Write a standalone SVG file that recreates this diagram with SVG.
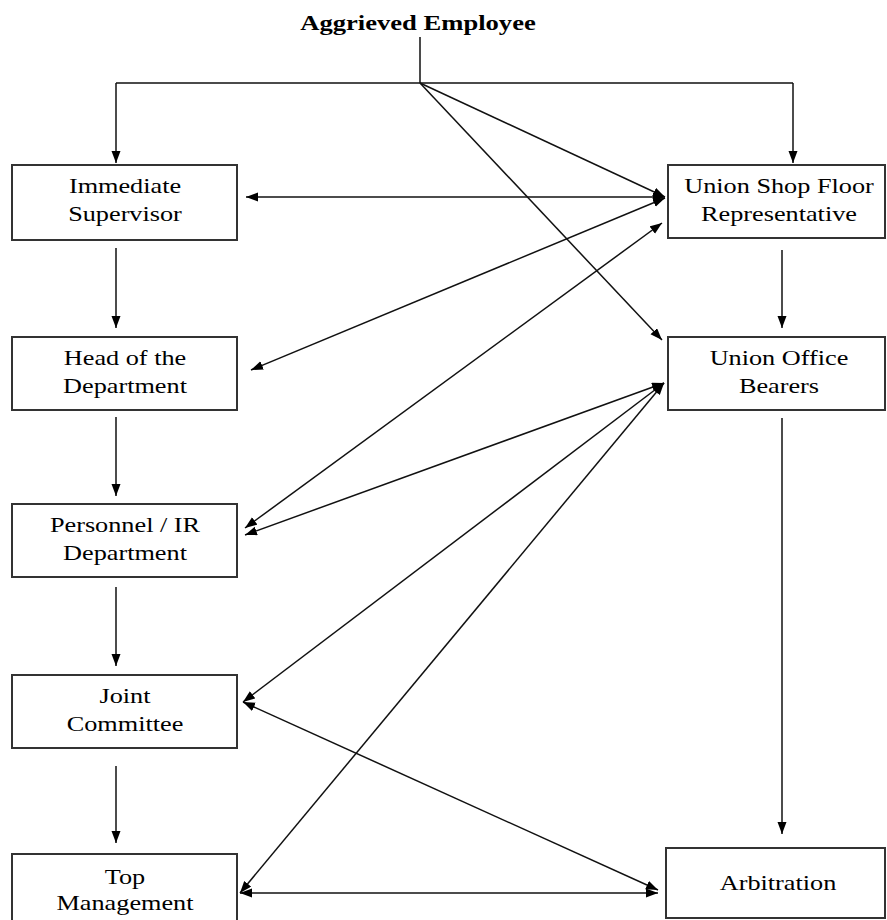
<svg xmlns="http://www.w3.org/2000/svg" width="887" height="920" viewBox="0 0 887 920">
  <defs>
    <marker id="arrow" markerUnits="userSpaceOnUse" markerWidth="13" markerHeight="10" refX="12" refY="4.5" orient="auto-start-reverse">
      <path d="M0,0 L12,4.5 L0,9 Z" fill="#000"/>
    </marker>
    <style>
      .box { fill: #fff; stroke: #333; stroke-width: 2; }
      .lbl { font-family: "Liberation Serif", "Times New Roman", serif; font-size: 21px; fill: #000; text-anchor: middle; }
      .title { font-family: "Liberation Serif", "Times New Roman", serif; font-size: 20px; font-weight: bold; fill: #000; text-anchor: middle; }
      .ln { fill: none; stroke: #111; stroke-width: 1.5; }
      .one { marker-end: url(#arrow); }
      .two { marker-start: url(#arrow); marker-end: url(#arrow); }
    </style>
  </defs>
  <rect width="887" height="920" fill="#fff"/>

  <!-- source of the complaint -->
  <g id="aggrieved-employee">
    <g transform="translate(418 0) scale(1.33 1)"><text class="title" x="0" y="30">Aggrieved Employee</text></g>
  </g>

  <!-- management side (left column) -->
  <g id="immediate-supervisor">
    <rect class="box" x="12" y="165" width="225" height="75"/>
    <g transform="translate(125 0) scale(1.25 1)">
      <text class="lbl" x="0" y="193">Immediate</text>
      <text class="lbl" x="0" y="221">Supervisor</text>
    </g>
  </g>
  <g id="head-of-department">
    <rect class="box" x="12" y="337" width="225" height="73"/>
    <g transform="translate(125 0) scale(1.25 1)">
      <text class="lbl" x="0" y="365">Head of the</text>
      <text class="lbl" x="0" y="393">Department</text>
    </g>
  </g>
  <g id="personnel-ir">
    <rect class="box" x="12" y="504" width="225" height="73"/>
    <g transform="translate(125 0) scale(1.25 1)">
      <text class="lbl" x="0" y="532">Personnel / IR</text>
      <text class="lbl" x="0" y="560">Department</text>
    </g>
  </g>
  <g id="joint-committee">
    <rect class="box" x="12" y="675" width="225" height="73"/>
    <g transform="translate(125 0) scale(1.25 1)">
      <text class="lbl" x="0" y="703">Joint</text>
      <text class="lbl" x="0" y="731">Committee</text>
    </g>
  </g>
  <g id="top-management">
    <rect class="box" x="12" y="854" width="225" height="80"/>
    <g transform="translate(125 0) scale(1.25 1)">
      <text class="lbl" x="0" y="884">Top</text>
      <text class="lbl" x="0" y="910">Management</text>
    </g>
  </g>

  <!-- union side (right column) -->
  <g id="union-shop-floor-rep">
    <rect class="box" x="668" y="165" width="217" height="73"/>
    <g transform="translate(779 0) scale(1.25 1)">
      <text class="lbl" x="0" y="193">Union Shop Floor</text>
      <text class="lbl" x="0" y="221">Representative</text>
    </g>
  </g>
  <g id="union-office-bearers">
    <rect class="box" x="668" y="337" width="217" height="73"/>
    <g transform="translate(779 0) scale(1.25 1)">
      <text class="lbl" x="0" y="365">Union Office</text>
      <text class="lbl" x="0" y="393">Bearers</text>
    </g>
  </g>
  <g id="arbitration">
    <rect class="box" x="666" y="848" width="219" height="70"/>
    <g transform="translate(778 0) scale(1.25 1)">
      <text class="lbl" x="0" y="890">Arbitration</text>
    </g>
  </g>

  <!-- connectors -->
  <g id="connectors">
    <path class="ln" d="M420,37 V83 M116,83 H793"/>
    <line class="ln one" x1="116" y1="83" x2="116" y2="163"/>
    <line class="ln one" x1="793" y1="83" x2="793" y2="163"/>
    <line class="ln one" x1="420" y1="83" x2="665" y2="197"/>
    <line class="ln one" x1="420" y1="83" x2="662" y2="340"/>

    <line class="ln one" x1="116" y1="248" x2="116" y2="328"/>
    <line class="ln one" x1="116" y1="417" x2="116" y2="496"/>
    <line class="ln one" x1="116" y1="587" x2="116" y2="666"/>
    <line class="ln one" x1="116" y1="766" x2="116" y2="843"/>

    <line class="ln one" x1="782" y1="250" x2="782" y2="328"/>
    <line class="ln one" x1="782" y1="418" x2="782" y2="834"/>

    <line class="ln two" x1="246" y1="197" x2="665" y2="197"/>
    <line class="ln two" x1="251" y1="370" x2="665" y2="198"/>
    <line class="ln two" x1="245" y1="528" x2="662" y2="223"/>
    <line class="ln two" x1="245" y1="535" x2="664" y2="383"/>
    <line class="ln two" x1="243" y1="702" x2="664" y2="383"/>
    <line class="ln two" x1="240" y1="893" x2="664" y2="383"/>
    <line class="ln two" x1="243" y1="702" x2="658" y2="890"/>
    <line class="ln two" x1="240" y1="893" x2="658" y2="893"/>
  </g>
</svg>
